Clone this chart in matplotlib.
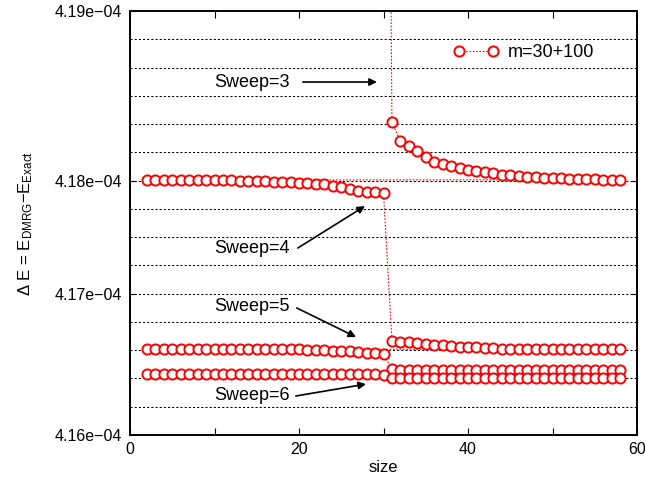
import matplotlib
matplotlib.use("Agg")
import matplotlib.pyplot as plt
from matplotlib.ticker import MultipleLocator, FixedLocator, FixedFormatter
import numpy as np

plt.rcParams['font.family'] = ['Liberation Sans', 'DejaVu Sans']
plt.rcParams['mathtext.fontset'] = 'custom'
plt.rcParams['mathtext.rm'] = 'Liberation Sans'
plt.rcParams['mathtext.it'] = 'Liberation Sans'

# ---- data (units of 1e-4) ----
x_start = [30]
y_start = [4.2600]

x_s3_right = list(range(31, 59))
y_s3_right = [4.18213, 4.18080, 4.18045, 4.18012, 4.17965, 4.17932, 4.17920, 4.17903,
              4.17889, 4.17877, 4.17868, 4.17859, 4.17852, 4.17842, 4.17838, 4.17833,
              4.17828, 4.17826, 4.17821, 4.17818, 4.17816, 4.17813, 4.17811, 4.17811,
              4.17809, 4.17806, 4.17806, 4.17806]

x_s4_left = list(range(2, 31))
y_s4_left = [4.17804, 4.17804, 4.17804, 4.17804, 4.17804, 4.17803, 4.17803, 4.17802,
             4.17802, 4.17801, 4.17801, 4.17800, 4.17799, 4.17797, 4.17795, 4.17792,
             4.17790, 4.17788, 4.17785, 4.17781, 4.17778, 4.17774, 4.17764, 4.17753,
             4.17739, 4.17727, 4.17722, 4.17717, 4.17710]

x_s5_right = list(range(31, 59))
y_s5_right = [4.16667, 4.16660, 4.16656, 4.16653, 4.16644, 4.16637, 4.16635, 4.16628,
              4.16625, 4.16623, 4.16621, 4.16616, 4.16614, 4.16611, 4.16611, 4.16611,
              4.16611, 4.16609, 4.16609, 4.16609, 4.16609, 4.16609, 4.16609, 4.16607,
              4.16607, 4.16607, 4.16607, 4.16607]

x_s5_left = list(range(2, 31))
y_s5_left = [4.16607] * 19 + [4.16604, 4.16601, 4.16599, 4.16597, 4.16594, 4.16591,
                              4.16587, 4.16582, 4.16577, 4.16573]

x_s6_right = list(range(31, 59))
y_s6_right = [4.16465, 4.16460] + [4.16458] * 26

x_s6_left = list(range(2, 31))
y_s6_left = [4.16430] * 28 + [4.16427]

x_s7_right = list(range(31, 59))
y_s7_right = [4.16401] * 28

xs = np.array(x_start + x_s3_right + x_s4_left + x_s5_right + x_s5_left
              + x_s6_right + x_s6_left + x_s7_right, dtype=float)
ys = np.array(y_start + y_s3_right + y_s4_left + y_s5_right + y_s5_left
              + y_s6_right + y_s6_left + y_s7_right) * 1e-4

ytick_pos = [4.160e-4, 4.170e-4, 4.178e-4, 4.190e-4]
ytick_lab = ['4.16e\u221204', '4.17e\u221204', '4.18e\u221204', '4.19e\u221204']
grid_levels = np.arange(4.162e-4, 4.1895e-4, 0.002e-4)

annotations = [
    ('Sweep=3', (0.241, 0.8325), (0.341, 0.8325), (0.487, 0.8325)),
    ('Sweep=4', (0.241, 0.4387), (0.331, 0.441), (0.4635, 0.540)),
    ('Sweep=5', (0.241, 0.302), (0.329, 0.2995), (0.446, 0.231)),
    ('Sweep=6', (0.241, 0.0943), (0.327, 0.092), (0.4655, 0.120)),
]

fig = plt.figure(figsize=(6.45, 4.86), dpi=100)
ax = fig.add_axes([130/645, 1-435/486, 507/645, 424/486])

for g in grid_levels:
    ax.axhline(g, color='black', lw=0.75, linestyle=(0, (2, 2)), zorder=1)

ax.plot(xs, ys, color='red', lw=0.8, linestyle=(0, (1.5, 1.5)), marker='o',
        markersize=7.3, markerfacecolor='white', markeredgecolor='red',
        markeredgewidth=1.4, label='m=30+100', zorder=3)

ax.set_xlim(0, 60)
ax.set_ylim(4.16e-4, 4.19e-4)
ax.xaxis.set_major_locator(MultipleLocator(20))
ax.xaxis.set_minor_locator(MultipleLocator(10))
ax.yaxis.set_major_locator(FixedLocator(ytick_pos))
ax.yaxis.set_major_formatter(FixedFormatter(ytick_lab))
ax.yaxis.set_minor_locator(FixedLocator([]))
ax.tick_params(axis='both', which='both', direction='in', top=True, right=True,
               labelsize=11.5, width=0.8)
ax.tick_params(axis='x', which='both', length=5, pad=5)
ax.tick_params(axis='y', which='both', length=4, pad=6)
for s in ax.spines.values():
    s.set_linewidth(1.4)

ax.set_xlabel('size', fontsize=12, labelpad=2)
ax.set_ylabel(r'$\Delta$ E = E$_{\mathrm{DMRG}}$$-$E$_{\mathrm{Exact}}$', fontsize=12, labelpad=14)

for txt, tpos, a0, a1 in annotations:
    ax.text(tpos[0], tpos[1], txt, transform=ax.transAxes, ha='center', va='center',
            fontsize=13, zorder=5)
    ax.annotate('', xy=a1, xytext=a0, xycoords='axes fraction', textcoords='axes fraction',
                arrowprops=dict(arrowstyle='-|>', color='black', lw=1.2,
                                mutation_scale=11, shrinkA=0, shrinkB=0), zorder=5)

leg = ax.legend(loc='center right', bbox_to_anchor=(0.915, 0.901), frameon=False,
                fontsize=13, numpoints=2, handlelength=2.5, handletextpad=0.5,
                borderaxespad=0, borderpad=0)

fig.savefig('out.png', dpi=100)
